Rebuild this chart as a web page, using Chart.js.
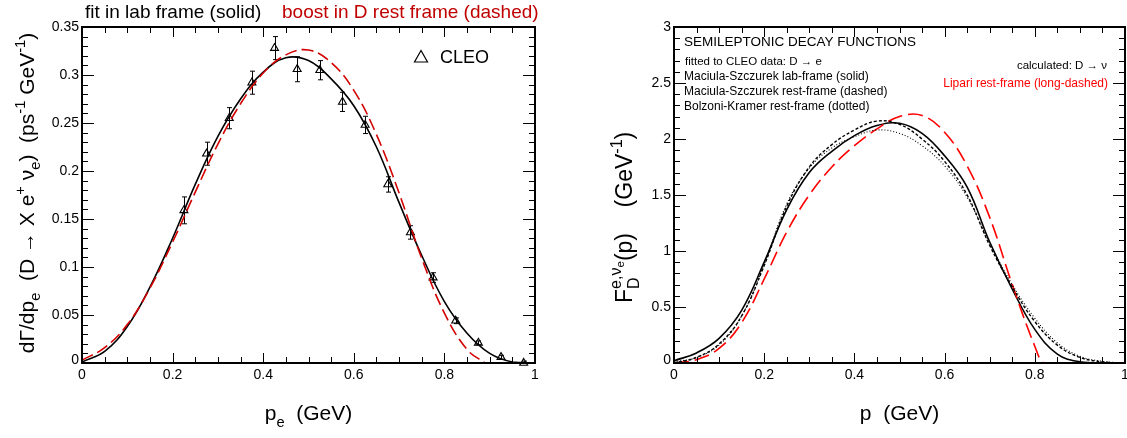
<!DOCTYPE html>
<html>
<head>
<meta charset="utf-8">
<script src="https://cdn.jsdelivr.net/npm/chart.js@4.4.1/dist/chart.umd.min.js"></script>
<style>
  body { margin: 0; background: #fff; }
  #wrap { position: relative; width: 1127px; height: 438px; overflow: hidden; }
  canvas { position: absolute; top: 0; }
</style>
</head>
<body>
<div id="wrap">
  <canvas id="left" width="563" height="438" style="left:0"></canvas>
  <canvas id="right" width="564" height="438" style="left:563px"></canvas>
</div>
<script>
const FONT = '"Liberation Sans", Arial, Helvetica, sans-serif';

// ---- left panel: dGamma/dp_e ----
const labX = [0, 0.05, 0.1, 0.15, 0.2, 0.25, 0.3, 0.35, 0.4, 0.45, 0.5, 0.55, 0.6, 0.65, 0.7, 0.75, 0.8, 0.85, 0.9, 0.95, 1.0];
const labFit = [0.001, 0.012, 0.038, 0.079, 0.130, 0.186, 0.236, 0.275, 0.303, 0.318, 0.315, 0.296, 0.268, 0.225, 0.167, 0.112, 0.064, 0.031, 0.010, 0.001, 0];
const boostX = [0, 0.05, 0.1, 0.15, 0.2, 0.25, 0.3, 0.35, 0.4, 0.45, 0.5, 0.55, 0.6, 0.65, 0.7, 0.75, 0.8, 0.85, 0.89];
const boostRest = [0.003, 0.016, 0.040, 0.078, 0.126, 0.178, 0.228, 0.270, 0.302, 0.321, 0.326, 0.313, 0.284, 0.238, 0.177, 0.109, 0.052, 0.014, 0];

const cleoP = [0.225, 0.275, 0.325, 0.375, 0.425, 0.475, 0.525, 0.575, 0.625, 0.675, 0.725, 0.775, 0.825, 0.875, 0.925, 0.975];
const cleoRate = [0.159, 0.218, 0.255, 0.292, 0.328, 0.306, 0.305, 0.272, 0.248, 0.186, 0.136, 0.089, 0.044, 0.021, 0.006, 0.0];
const cleoErr = [0.014, 0.012, 0.011, 0.012, 0.012, 0.013, 0.010, 0.010, 0.009, 0.008, 0.007, 0.005, 0.003, 0.002, 0.002, 0.002];

const leftXTicks = [0, 0.2, 0.4, 0.6, 0.8, 1];
const leftXLabels = ['0', '0.2', '0.4', '0.6', '0.8', '1'];
const leftYTicks = [0, 0.05, 0.1, 0.15, 0.2, 0.25, 0.3, 0.35];
const leftYLabels = ['0', '0.05', '0.1', '0.15', '0.2', '0.25', '0.3', '0.35'];

// ---- right panel: decay functions ----
const fX = [0, 0.05, 0.1, 0.15, 0.2, 0.25, 0.3, 0.35, 0.4, 0.45, 0.5, 0.55, 0.6, 0.65, 0.7, 0.75, 0.8, 0.85, 0.9, 0.95, 1.0];
const msLab = [0.02, 0.09, 0.22, 0.47, 0.90, 1.37, 1.70, 1.89, 2.03, 2.12, 2.14, 2.05, 1.85, 1.57, 1.08, 0.66, 0.30, 0.08, 0.01, 0, 0];
const msRest = [0, 0.05, 0.17, 0.42, 0.87, 1.40, 1.75, 1.95, 2.08, 2.16, 2.13, 2.00, 1.80, 1.50, 1.05, 0.68, 0.37, 0.16, 0.05, 0.01, 0];
const bkRest = [0.01, 0.05, 0.16, 0.42, 0.88, 1.42, 1.74, 1.92, 2.02, 2.08, 2.05, 1.94, 1.76, 1.48, 1.07, 0.70, 0.40, 0.18, 0.06, 0.015, 0];
const lipX = [0, 0.05, 0.1, 0.15, 0.2, 0.25, 0.3, 0.35, 0.4, 0.45, 0.5, 0.55, 0.6, 0.65, 0.7, 0.75, 0.8, 0.82, 0.85, 0.9, 0.95, 1.0];
const lipari = [0, 0.03, 0.13, 0.36, 0.75, 1.17, 1.50, 1.75, 1.94, 2.09, 2.20, 2.21, 2.06, 1.76, 1.30, 0.70, 0.15, 0, 0, 0, 0, 0];

const rightXTicks = [0, 0.2, 0.4, 0.6, 0.8, 1];
const rightXLabels = ['0', '0.2', '0.4', '0.6', '0.8', '1'];
const rightYTicks = [0, 0.5, 1, 1.5, 2, 2.5, 3];
const rightYLabels = ['0', '0.5', '1', '1.5', '2', '2.5', '3'];

const pts = (xs, ys) => xs.map((x, i) => ({ x: x, y: ys[i] }));

// text with sub/superscripts: [text, scale, shiftEm, noAdvance]
function richWidth(ctx, parts, size) {
  let w = 0;
  for (const [t, s = 1, dy = 0, stay] of parts) {
    ctx.font = `${size * s}px ${FONT}`;
    if (!stay) w += ctx.measureText(t).width;
  }
  return w;
}
function richText(ctx, parts, x, y, size, color, align) {
  const w = richWidth(ctx, parts, size);
  let cx = align === 'center' ? x - w / 2 : align === 'right' ? x - w : x;
  ctx.fillStyle = color;
  ctx.textAlign = 'left';
  ctx.textBaseline = 'alphabetic';
  for (const [t, s = 1, dy = 0, stay] of parts) {
    ctx.font = `${size * s}px ${FONT}`;
    ctx.fillText(t, cx, y + dy * size);
    if (!stay) cx += ctx.measureText(t).width;
  }
}
function rotated(ctx, parts, x, y, size, align) {
  ctx.save();
  ctx.translate(x, y);
  ctx.rotate(-Math.PI / 2);
  richText(ctx, parts, 0, 0, size, '#000', align);
  ctx.restore();
}

// frame with inward ticks on all four sides, tick labels and extra text
function framePlugin(spec) {
  return {
    id: 'frame',
    afterDatasetsDraw(chart) {
      const { ctx, chartArea: a, scales: { x, y } } = chart;
      ctx.save();
      ctx.strokeStyle = '#000';
      ctx.lineWidth = 1;
      ctx.beginPath();
      const nx = Math.round((x.max - x.min) / spec.xMinor);
      for (let i = 0; i <= nx; i++) {
        const v = x.min + i * spec.xMinor;
        const major = spec.xTicks.some(t => Math.abs(t - v) < 1e-9);
        const len = major ? 10 : 6;
        const px = Math.round(x.getPixelForValue(v)) + 0.5;
        ctx.moveTo(px, a.bottom); ctx.lineTo(px, a.bottom - len);
        ctx.moveTo(px, a.top); ctx.lineTo(px, a.top + len);
      }
      const ny = Math.round((y.max - y.min) / spec.yMinor);
      for (let i = 0; i <= ny; i++) {
        const v = y.min + i * spec.yMinor;
        const major = spec.yTicks.some(t => Math.abs(t - v) < 1e-9);
        const len = major ? 12 : 6;
        const py = Math.round(y.getPixelForValue(v)) + 0.5;
        ctx.moveTo(a.left, py); ctx.lineTo(a.left + len, py);
        ctx.moveTo(a.right, py); ctx.lineTo(a.right - len, py);
      }
      ctx.stroke();
      ctx.lineWidth = 2;
      ctx.strokeRect(a.left, a.top, a.right - a.left, a.bottom - a.top);

      ctx.fillStyle = '#000';
      ctx.font = `14px ${FONT}`;
      ctx.textAlign = 'center';
      ctx.textBaseline = 'alphabetic';
      spec.xTicks.forEach((v, i) => ctx.fillText(spec.xLabels[i], x.getPixelForValue(v), 378.5));
      ctx.textAlign = 'right';
      ctx.textBaseline = 'middle';
      spec.yTicks.forEach((v, i) => ctx.fillText(spec.yLabels[i], a.left - 3, y.getPixelForValue(v) - (v === 0 ? 3 : 0)));
      spec.extra(ctx, chart);
      ctx.restore();
    }
  };
}

const common = (pad, ymax) => ({
  responsive: false,
  animation: false,
  layout: { padding: pad },
  elements: { line: { tension: 0.4 } },
  plugins: { legend: { display: false }, tooltip: { enabled: false } },
  scales: {
    x: { type: 'linear', min: 0, max: 1, display: false },
    y: { type: 'linear', min: 0, max: ymax, display: false }
  }
});

// ---- left chart ----
new Chart(document.getElementById('left'), {
  type: 'line',
  data: {
    datasets: [
      { data: pts(boostX, boostRest), borderColor: '#d40000', borderWidth: 1.6, borderDash: [12, 5], pointRadius: 0 },
      { data: pts(labX, labFit), borderColor: '#000', borderWidth: 1.6, pointRadius: 0 },
      { data: pts(cleoP, cleoRate), showLine: false, pointStyle: 'triangle', pointRadius: 4.6,
        pointBorderColor: '#000', pointBackgroundColor: 'rgba(0,0,0,0)', pointBorderWidth: 1.1, clip: false }
    ]
  },
  options: common({ left: 82, right: 28, top: 27, bottom: 75 }, 0.35),
  plugins: [
    {
      id: 'errbars',
      beforeDatasetsDraw(chart) {
        const { ctx, scales: { x, y } } = chart;
        ctx.save();
        ctx.strokeStyle = '#000';
        ctx.lineWidth = 1;
        ctx.beginPath();
        cleoP.forEach((p, i) => {
          const px = Math.round(x.getPixelForValue(p)) + 0.5;
          const y1 = y.getPixelForValue(cleoRate[i] + cleoErr[i]);
          const y2 = y.getPixelForValue(Math.max(0, cleoRate[i] - cleoErr[i]));
          ctx.moveTo(px, y1); ctx.lineTo(px, y2);
          ctx.moveTo(px - 2.5, y1); ctx.lineTo(px + 2.5, y1);
          ctx.moveTo(px - 2.5, y2); ctx.lineTo(px + 2.5, y2);
        });
        ctx.stroke();
        ctx.restore();
      }
    },
    framePlugin({
      xTicks: leftXTicks, xLabels: leftXLabels, xMinor: 0.05,
      yTicks: leftYTicks, yLabels: leftYLabels, yMinor: 0.01,
      extra(ctx, chart) {
        const a = chart.chartArea;
        ctx.textAlign = 'left';
        ctx.textBaseline = 'alphabetic';
        ctx.font = `19px ${FONT}`;
        ctx.fillStyle = '#000';
        ctx.fillText('fit in lab frame (solid)', 85, 18);
        ctx.fillStyle = '#c00000';
        ctx.fillText('boost in D rest frame (dashed)', 282, 18);
        // CLEO legend
        ctx.strokeStyle = '#000';
        ctx.lineWidth = 1.2;
        ctx.beginPath();
        ctx.moveTo(421, 50.5); ctx.lineTo(414.5, 62); ctx.lineTo(427.5, 62); ctx.closePath();
        ctx.stroke();
        ctx.fillStyle = '#000';
        ctx.font = `18px ${FONT}`;
        ctx.fillText('CLEO', 440, 63);
        // axis titles
        richText(ctx, [['p'], ['e', 0.7, 0.35], ['  (GeV)']], (a.left + a.right) / 2, 420, 21, '#000', 'center');
        rotated(ctx, [['dΓ/dp'], ['e', 0.7, 0.3], ['  (D → X e'], ['+', 0.7, -0.45], [' ν'], ['e', 0.7, 0.3],
          [')  (ps'], ['-1', 0.7, -0.45], [' GeV'], ['-1', 0.7, -0.45], [')']], 34, 193, 21, 'center');
      }
    })
  ]
});

// ---- right chart ----
new Chart(document.getElementById('right'), {
  type: 'line',
  data: {
    datasets: [
      { data: pts(fX, bkRest), borderColor: '#000', borderWidth: 1.1, borderDash: [1, 2], pointRadius: 0 },
      { data: pts(fX, msRest), borderColor: '#000', borderWidth: 1.4, borderDash: [3, 2], pointRadius: 0 },
      { data: pts(lipX, lipari), borderColor: '#ff0000', borderWidth: 1.6, borderDash: [15, 6], pointRadius: 0 },
      { data: pts(fX, msLab), borderColor: '#000', borderWidth: 1.6, pointRadius: 0 }
    ]
  },
  options: common({ left: 111, right: 2, top: 27, bottom: 75 }, 3),
  plugins: [
    framePlugin({
      xTicks: rightXTicks, xLabels: rightXLabels, xMinor: 0.05,
      yTicks: rightYTicks, yLabels: rightYLabels, yMinor: 0.1,
      extra(ctx, chart) {
        const a = chart.chartArea;
        ctx.textAlign = 'left';
        ctx.textBaseline = 'alphabetic';
        ctx.fillStyle = '#000';
        ctx.font = `13.5px ${FONT}`;
        ctx.fillText('SEMILEPTONIC DECAY FUNCTIONS', 121, 46);
        ctx.font = `11.5px ${FONT}`;
        ctx.fillText('fitted to CLEO data: D → e', 122, 64.5);
        ctx.font = `12px ${FONT}`;
        ctx.fillText('Maciula-Szczurek lab-frame (solid)', 121, 80);
        ctx.fillText('Maciula-Szczurek rest-frame (dashed)', 121, 95);
        ctx.fillText('Bolzoni-Kramer rest-frame (dotted)', 121, 110);
        ctx.textAlign = 'right';
        ctx.font = `11.5px ${FONT}`;
        ctx.fillText('calculated: D → ν', 544, 69);
        ctx.fillStyle = '#ff0000';
        ctx.font = `12px ${FONT}`;
        ctx.fillText('Lipari rest-frame (long-dashed)', 545, 87);
        richText(ctx, [['p'], ['  (GeV)']], (a.left + a.right) / 2, 420, 21, '#000', 'center');
        rotated(ctx, [['F'], ['D', 0.7, 0.3, true], ['e,ν', 0.7, -0.5], ['e', 0.5, -0.35], ['(p)'],
          ['    (GeV'], ['-1', 0.7, -0.45], [')']], 69, 303, 23, 'left');
      }
    })
  ]
});
</script>
</body>
</html>
